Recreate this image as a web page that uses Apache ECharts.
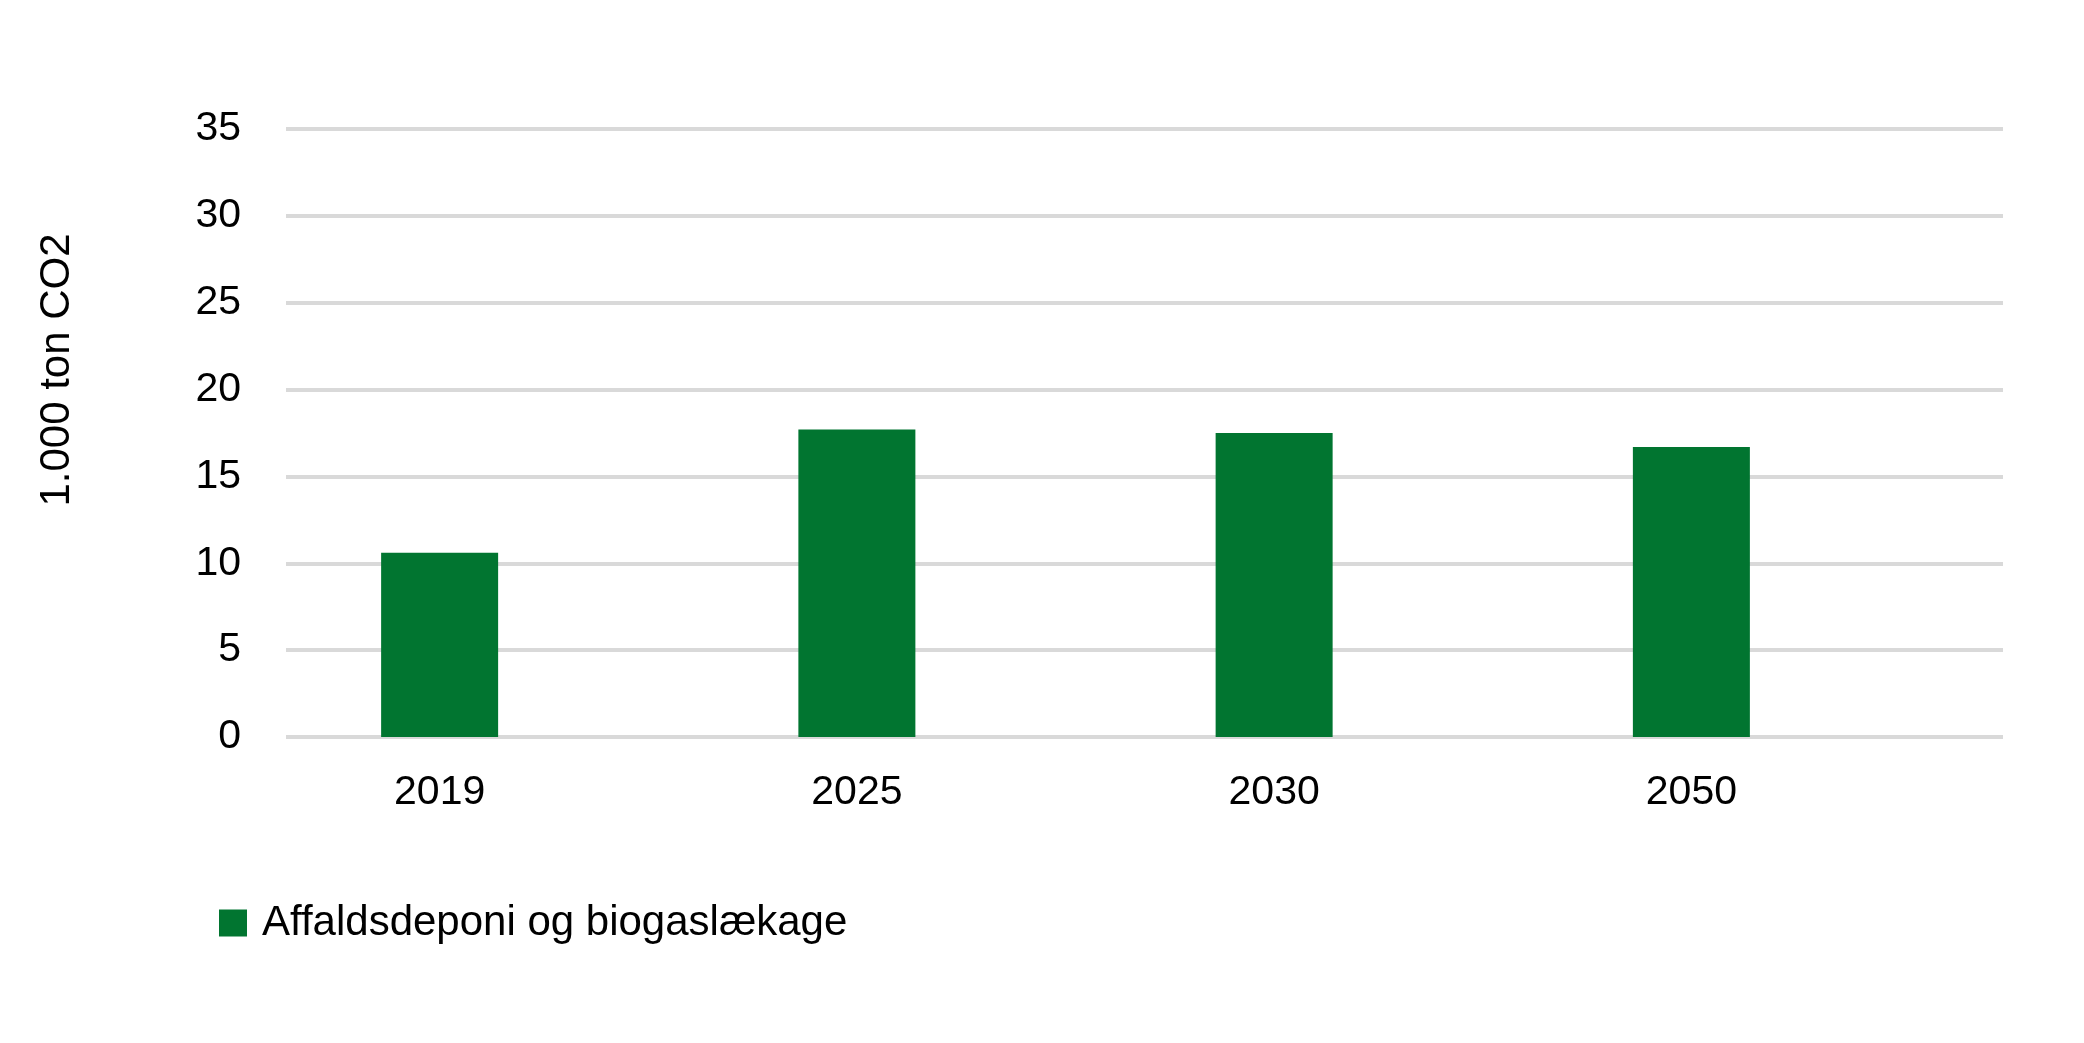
<!DOCTYPE html>
<html>
<head>
<meta charset="utf-8">
<script src="https://cdn.jsdelivr.net/npm/echarts@6/dist/echarts.min.js"></script>
<style>
html,body{margin:0;padding:0;background:#fff;}
#chart{width:2084px;height:1043px;}
</style>
</head>
<body>
<div id="chart"></div>
<script>
const categories = ['2019', '2025', '2030', '2050'];
const seriesName = 'Affaldsdeponi og biogaslækage';
const values = [10.6, 17.7, 17.5, 16.7];
const yAxisTitle = '1.000 ton CO2';
const yMin = 0, yMax = 35, yStep = 5;

const FONT = 'Liberation Sans, Arial, sans-serif';
const GREEN = '#017530';

const chart = echarts.init(document.getElementById('chart'));
chart.setOption({
  backgroundColor: '#ffffff',
  animation: false,
  textStyle: { fontFamily: FONT, color: '#000' },
  grid: [
    { left: 286, right: 81, top: 129, bottom: 306 },
    { left: 231, right: 184, top: 129, bottom: 306 }
  ],
  xAxis: [
    { gridIndex: 0, type: 'category', data: categories, show: false },
    {
      gridIndex: 1, type: 'category', data: categories,
      axisLine: { show: false }, axisTick: { show: false },
      axisLabel: { fontSize: 41, color: '#000', margin: 35, fontFamily: FONT }
    }
  ],
  yAxis: [
    {
      gridIndex: 0, type: 'value', min: yMin, max: yMax, interval: yStep,
      axisLine: { show: false }, axisTick: { show: false },
      axisLabel: { fontSize: 41, color: '#000', margin: 45, fontFamily: FONT },
      splitLine: { show: true, lineStyle: { color: '#d9d9d9', width: 4 } }
    },
    {
      gridIndex: 1, type: 'value', min: yMin, max: yMax, interval: yStep,
      show: false, splitLine: { show: false }
    }
  ],
  legend: {
    left: 214, top: 897,
    itemWidth: 28, itemHeight: 27,
    icon: 'rect',
    data: [seriesName],
    textStyle: { fontSize: 42, color: '#000', fontFamily: FONT, padding: [0, 0, 0, 10] }
  },
  graphic: [
    {
      type: 'text', x: 57, y: 370, rotation: Math.PI / 2,
      style: {
        text: yAxisTitle, fontSize: 42, fontFamily: FONT, fill: '#000',
        align: 'center', verticalAlign: 'middle'
      }
    }
  ],
  series: [
    {
      name: seriesName, type: 'bar', xAxisIndex: 1, yAxisIndex: 1,
      data: values, barWidth: 117,
      itemStyle: { color: GREEN }
    }
  ]
});
</script>
</body>
</html>
